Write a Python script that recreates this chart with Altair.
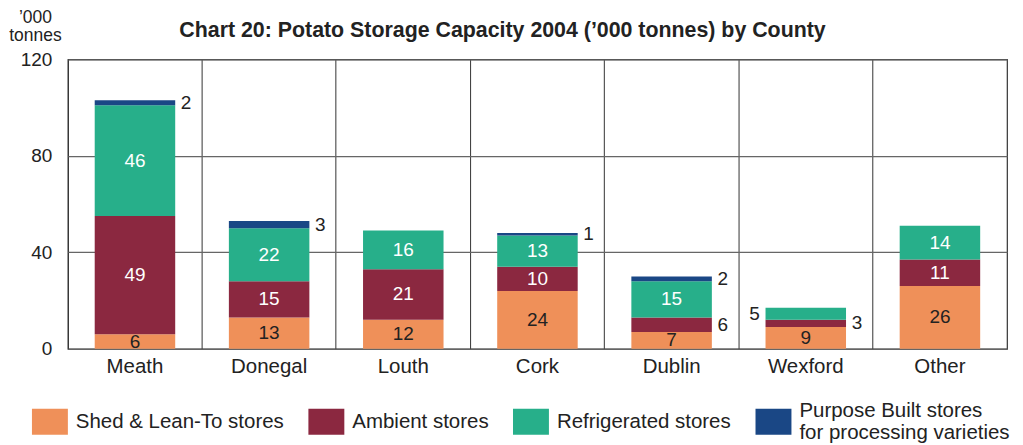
import altair as alt
import pandas as pd

counties = ["Meath", "Donegal", "Louth", "Cork", "Dublin", "Wexford", "Other"]
series = ["Shed & Lean-To stores", "Ambient stores", "Refrigerated stores",
          "Purpose Built stores|for processing varieties"]
shed = [6, 13, 12, 24, 7, 9, 26]
ambient = [49, 15, 21, 10, 6, 3, 11]
refrig = [46, 22, 16, 13, 15, 5, 14]
purpose = [2, 3, 0, 1, 2, 0, 0]
shed_pos = ["in", "in", "in", "in", "in", "in", "in"]
ambient_pos = ["in", "in", "in", "in", "right", "right", "in"]
refrig_pos = ["in", "in", "in", "in", "in", "left", "in"]
purpose_pos = ["right", "right", "right", "right", "right", "right", "right"]
colors = ["#EF9059", "#8B2840", "#27AF8A", "#1A4785"]

values = [shed, ambient, refrig, purpose]
positions = [shed_pos, ambient_pos, refrig_pos, purpose_pos]
rows = []
for si, (s, vals, poss) in enumerate(zip(series, values, positions)):
    for c, v, p in zip(counties, vals, poss):
        if v > 0:
            rows.append(dict(county=c, series=s, value=v, order=si, pos=p))
df = pd.DataFrame(rows)

FONT = "Liberation Sans"

base = alt.Chart(df).transform_stack(
    stack="value", groupby=["county"], as_=["y0", "y1"],
    sort=[alt.SortField("order", order="ascending")]
).transform_calculate(mid="(datum.y0 + datum.y1) / 2")

xenc = alt.X("county:N", sort=counties,
             scale=alt.Scale(paddingInner=0, paddingOuter=0),
             axis=alt.Axis(title=None, grid=True, bandPosition=0, ticks=False,
                           domain=False, labelFontSize=20.5, labelPadding=8,
                           labelColor="#222", gridColor="#333", gridWidth=1,
                           labelAngle=0))
yscale = alt.Scale(domain=[0, 120], nice=False)

# legend swatch: visible box plus invisible move-to points so that every
# legend entry has the same vertical extent
swatch = "M0,-1.6M0,1.6M-1,-0.72H1V0.72H-1Z"

bars = base.mark_bar(width=alt.RelativeBandSize(0.6)).encode(
    x=xenc,
    y=alt.Y("y0:Q", scale=yscale,
            axis=alt.Axis(values=[0, 40, 80, 120], ticks=False, domain=False,
                          labelFontSize=19, labelColor="#222", labelPadding=16,
                          gridColor="#666", gridWidth=1.2,
                          title=["\u2019000", "tonnes"], titleAngle=0,
                          titleAlign="center", titleBaseline="top",
                          titleX=-33, titleY=-51, titleFontSize=17.5,
                          titleFontWeight="normal", titleColor="#222",
                          titleLineHeight=18)),
    y2="y1:Q",
    color=alt.Color("series:N", scale=alt.Scale(domain=series, range=colors),
                    legend=alt.Legend(
                        title=None, orient="none", direction="horizontal",
                        columns=4, legendX=-36, legendY=345,
                        symbolType=swatch, symbolSize=1296,
                        symbolStrokeWidth=0, symbolOpacity=1,
                        labelFontSize=20.5, labelColor="#222", labelOffset=8,
                        columnPadding=24, labelLimit=400,
                        labelBaseline={"expr": "indexof(datum.value, '|') >= 0 ? 'line-bottom' : 'middle'"},
                        labelExpr="split(datum.label, '|')")),
)

inside = base.transform_filter(alt.datum.pos == "in").mark_text(
    fontSize=19, baseline="middle", align="center"
).encode(
    x=alt.X("county:N", sort=counties),
    y=alt.Y("mid:Q", scale=yscale),
    text="value:Q",
    color=alt.when(alt.datum.order == 0).then(alt.value("#222")).otherwise(alt.value("white")),
)

right = base.transform_filter(alt.datum.pos == "right").mark_text(
    fontSize=19, baseline="middle", align="left", dx=46, color="#222"
).encode(
    x=alt.X("county:N", sort=counties),
    y=alt.Y("mid:Q", scale=yscale),
    text="value:Q",
)

left = base.transform_filter(alt.datum.pos == "left").mark_text(
    fontSize=19, baseline="middle", align="right", dx=-46, color="#222"
).encode(
    x=alt.X("county:N", sort=counties),
    y=alt.Y("mid:Q", scale=yscale),
    text="value:Q",
)

chart = alt.layer(bars, inside, right, left).properties(
    width=941, height=290,
    padding={"left": 0, "top": 0, "right": 5, "bottom": 0},
    title=alt.TitleParams(
        "Chart 20: Potato Storage Capacity 2004 (\u2019000 tonnes) by County",
        fontSize=21.4, fontWeight="bold", color="#222", anchor="middle",
        dx=-35, offset=-33),
).configure(font=FONT).configure_view(stroke="#333", strokeWidth=1.2)

chart.save("out.html", embed_options={"renderer": "svg", "actions": False})
